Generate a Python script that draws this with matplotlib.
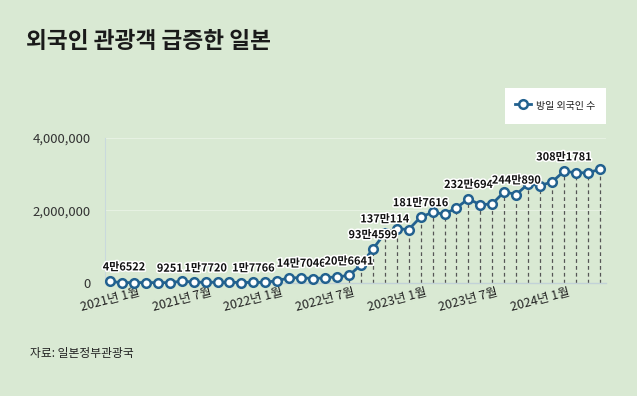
import matplotlib
matplotlib.use("Agg")
import matplotlib.pyplot as plt
import matplotlib.patheffects as pe
from matplotlib.ticker import FuncFormatter, FixedLocator

plt.rcParams['font.family'] = ['Noto Sans CJK KR', 'DejaVu Sans']

# ---- data ----
months = [f"{y}년 {m}월" for y in (2021, 2022, 2023, 2024) for m in range(1, 13)][:42]
visitors = [
    46522, 7355, 12276, 10853, 10035, 9251, 51055, 25916, 17720, 22113, 20658, 12084,
    17766, 16719, 66121, 139548, 147046, 120430, 144578, 169902, 206641, 498646, 934599, 1370114,
    1497472, 1475455, 1817616, 1949236, 1899176, 2073300, 2320694, 2156900, 2184500, 2516623, 2440890, 2733585,
    2688100, 2788000, 3081781, 3042900, 3040100, 3135600,
]
label_idx = [0, 5, 8, 12, 16, 20, 22, 23, 26, 30, 34, 38]
tick_idx = [0, 6, 12, 18, 24, 30, 36]
yticks = [0, 2000000, 4000000]
series_name = "방일 외국인 수"
title = "외국인 관광객 급증한 일본"
source = "자료: 일본정부관광국"

BG = "#d9e9d3"
BLUE = "#22618f"


def kr_num(v):
    if v >= 10000:
        return f"{v // 10000}만{v % 10000}"
    return str(v)


fig = plt.figure(figsize=(6.37, 3.96), dpi=100, facecolor=BG)
ax = fig.add_axes([0.1648, 0.2854, 0.951 - 0.1648, 0.6515 - 0.2854])
ax.set_facecolor(BG)

x = list(range(len(visitors)))

# drop lines
ax.vlines(x, 0, visitors, colors="#555555", linestyles=(0, (3, 2.5)), linewidth=0.9, zorder=1)

ax.plot(x, visitors, color=BLUE, linewidth=2.0, marker="o", markersize=6.2,
        markerfacecolor="white", markeredgecolor=BLUE, markeredgewidth=1.8,
        zorder=3, clip_on=False, label=series_name)

for i in label_idx:
    dx = 10 if i == 0 else 0
    ax.annotate(kr_num(visitors[i]), (x[i], visitors[i]), xytext=(dx, 10),
                textcoords="offset points", ha="center", va="center",
                fontsize=7.9, fontweight="bold", color="#111111", zorder=5,
                path_effects=[pe.withStroke(linewidth=2.2, foreground="white")])

ax.set_xlim(-0.42, 41.5)
ax.set_ylim(0, 4000000)
ax.yaxis.set_major_locator(FixedLocator(yticks))
ax.yaxis.set_major_formatter(FuncFormatter(lambda v, p: f"{int(v):,}"))
ax.set_xticks([x[i] for i in tick_idx])
ax.set_xticklabels([months[i] for i in tick_idx], rotation=15, ha="center",
                   fontsize=9, color="#222222")
ax.tick_params(axis="x", length=0, pad=2)
ax.tick_params(axis="y", length=0, pad=10, labelsize=9.5, labelcolor="#333333")

ax.grid(axis="y", color="#e6f1e2", linewidth=0.8, zorder=0)
for s in ("top", "right"):
    ax.spines[s].set_visible(False)
ax.spines["left"].set_color("#c9d9dc")
ax.spines["left"].set_linewidth(0.8)
ax.spines["bottom"].set_color("#c2d2d8")
ax.spines["bottom"].set_linewidth(1.0)

leg = ax.legend(loc="upper right", bbox_to_anchor=(0.951, 1 - 88 / 396),
                bbox_transform=fig.transFigure, borderaxespad=0, frameon=True,
                fancybox=False, edgecolor="white", facecolor="white", framealpha=1,
                fontsize=7.2, borderpad=1.05, handlelength=1.6, handletextpad=0.5,
                handleheight=2.0, labelcolor="#222222")
leg.get_frame().set_linewidth(0)

fig.text(26 / 637, 1 - 42 / 396, title, fontsize=16.3, fontweight="bold",
         color="#1a1a1a", va="center", ha="left")
fig.text(30 / 637, 1 - 354 / 396, source, fontsize=8.5, color="#222222",
         va="center", ha="left")

fig.savefig("out.png", dpi=100, facecolor=BG)
